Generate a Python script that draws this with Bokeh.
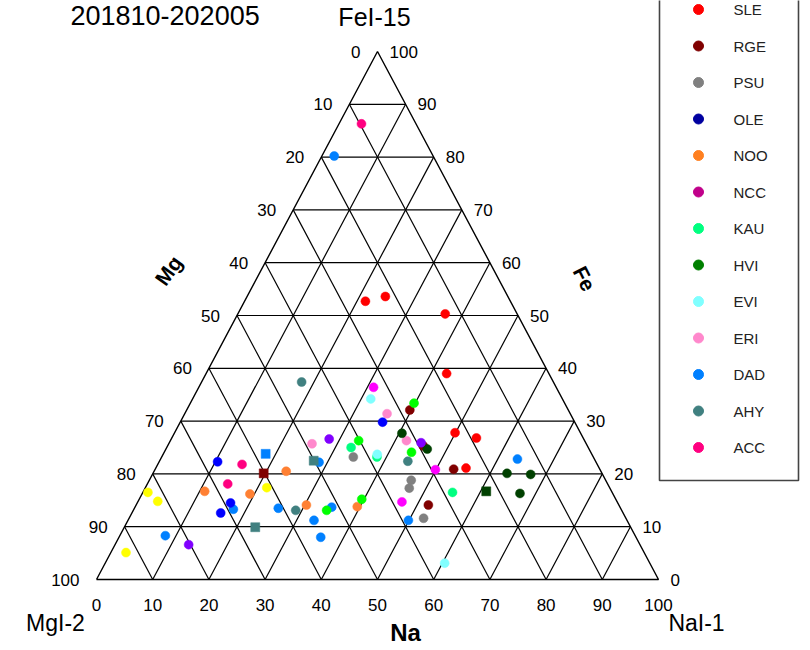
from bokeh.plotting import figure
from bokeh.models import Range1d
from bokeh.embed import file_html
from bokeh.resources import INLINE
from bokeh.core.properties import value

# ---------------- texts ----------------
title_text = "201810-202005"
apex_text = "FeI-15"
left_corner_text = "MgI-2"
right_corner_text = "NaI-1"
na_axis_name = "Na"
mg_axis_name = "Mg"
fe_axis_name = "Fe"
tick_values = [0, 10, 20, 30, 40, 50, 60, 70, 80, 90, 100]

# ---------------- legend ----------------
legend_names = ["SLE", "RGE", "PSU", "OLE", "NOO", "NCC", "KAU",
                "HVI", "EVI", "ERI", "DAD", "AHY", "ACC"]
legend_colors = ["#ff0000", "#800000", "#808080", "#0000a0", "#ff8020", "#c0008a",
                 "#00ff80", "#008000", "#80ffff", "#ff88cc", "#0080ff", "#408080", "#ff0080"]

# ---------------- data (Na %, Fe %; Mg = 100 - Na - Fe) ----------------
SLE_na = [21.5, 24.6, 36.9, 42.8, 49.9, 54.2, 55.2]
SLE_fe = [52.7, 53.6, 50.3, 39.0, 27.8, 26.8, 21.1]
RGE_na = [39.7, 45.5, 53.1, 52.0]
RGE_fe = [32.1, 25.3, 20.9, 14.1]
PSU_na = [34.1, 46.6, 47.0, 52.4]
PSU_fe = [23.2, 18.8, 17.3, 11.6]
NOO_na = [23.5, 10.9, 19.2, 30.3, 39.5]
NOO_fe = [20.5, 16.7, 16.2, 14.1, 13.8]
KAU_na = [32.8, 38.3, 55.1]
KAU_fe = [25.0, 23.2, 16.5]
EVI_na = [31.7, 38.1, 60.4]
EVI_fe = [34.2, 23.7, 3.1]
ERI_na = [36.0, 25.5, 42.0]
ERI_fe = [31.4, 25.7, 26.3]
DAD_na = [2.2, 28.5, 17.7, 25.6, 35.0, 33.1, 35.9, 8.1, 49.9, 63.5]
DAD_fe = [80.2, 22.2, 13.3, 13.5, 13.7, 11.2, 8.0, 8.3, 11.2, 22.8]
AHY_na = [17.8, 28.9, 44.2]
AHY_fe = [37.4, 13.1, 22.4]
ACC_na = [4.0, 15.0, 14.3]
ACC_fe = [86.3, 21.8, 18.1]
# series whose legend rows lie above the visible page
darkgreen_na = [40.5, 46.5, 63.0, 67.3, 67.2]
darkgreen_fe = [27.7, 24.7, 20.1, 19.9, 16.3]
yellow_na = [21.6, 0.9, 3.5, 2.7]
yellow_fe = [17.4, 16.5, 14.8, 5.1]
violet_na = [28.1, 13.1, 44.8]
violet_fe = [26.6, 6.6, 25.9]
lime_na = [39.8, 33.5, 44.0, 39.6, 34.4]
lime_fe = [33.4, 26.3, 24.1, 15.2, 13.1]
magenta_na = [31.1, 49.9, 47.0]
magenta_fe = [36.4, 20.8, 14.7]
blue_na = [36.0, 10.4, 16.6, 15.8]
blue_fe = [29.8, 22.3, 14.5, 12.6]
# square markers
sq_maroon_na = [19.7]
sq_maroon_fe = [20.1]
sq_dad_na = [18.2]
sq_dad_fe = [23.8]
sq_ahy_na = [27.4, 23.3]
sq_ahy_fe = [22.5, 9.9]
sq_darkgreen_na = [61.0]
sq_darkgreen_fe = [16.7]

series = [
    (SLE_na, SLE_fe, "#ff0000", "circle"),
    (RGE_na, RGE_fe, "#800000", "circle"),
    (PSU_na, PSU_fe, "#808080", "circle"),
    (NOO_na, NOO_fe, "#ff8033", "circle"),
    (KAU_na, KAU_fe, "#00ff80", "circle"),
    (EVI_na, EVI_fe, "#80ffff", "circle"),
    (ERI_na, ERI_fe, "#ff88cc", "circle"),
    (DAD_na, DAD_fe, "#0080ff", "circle"),
    (AHY_na, AHY_fe, "#408080", "circle"),
    (ACC_na, ACC_fe, "#ff0080", "circle"),
    (darkgreen_na, darkgreen_fe, "#004000", "circle"),
    (yellow_na, yellow_fe, "#ffff00", "circle"),
    (violet_na, violet_fe, "#8000ff", "circle"),
    (lime_na, lime_fe, "#00ff00", "circle"),
    (magenta_na, magenta_fe, "#ff00ff", "circle"),
    (blue_na, blue_fe, "#0000ff", "circle"),
    (sq_maroon_na, sq_maroon_fe, "#800000", "square"),
    (sq_dad_na, sq_dad_fe, "#0080ff", "square"),
    (sq_ahy_na, sq_ahy_fe, "#408080", "square"),
    (sq_darkgreen_na, sq_darkgreen_fe, "#004000", "square"),
]

# ---------------- geometry (pixel frame) ----------------
W, H = 810, 650
X0, PXU = 96.0, 5.62     # left corner x, pixels per % horizontally
Y0, PYU = 579.0, 5.28    # base y, pixels per % vertically


def dx(px):
    return (px - X0) / PXU


def dy(py):
    return (Y0 - py) / PYU


def to_uv(na, fe):
    return [n + f / 2.0 for n, f in zip(na, fe)], list(fe)


p = figure(width=W, height=H, output_backend="svg", toolbar_location=None,
           x_range=Range1d(dx(0), dx(W)), y_range=Range1d(dy(H), dy(0)),
           x_axis_location=None, y_axis_location=None,
           min_border=0, outline_line_color=None)
p.grid.visible = False
p.background_fill_color = "white"
p.border_fill_color = "white"

# ---------------- ternary grid ----------------
xs, ys = [], []
for k in range(1, 10):
    t = 10 * k
    # constant Fe (horizontal)
    xs.append([t / 2.0, 100 - t / 2.0]); ys.append([t, t])
    # constant Na
    xs.append([t, t + (100 - t) / 2.0]); ys.append([0, 100 - t])
    # constant Mg
    xs.append([100 - t, (100 - t) / 2.0]); ys.append([0, 100 - t])
p.multi_line(xs, ys, line_color="black", line_width=1.2)
p.line([0, 100, 50, 0], [0, 0, 100, 0], line_color="black", line_width=1.4)

# ---------------- points ----------------
for na, fe, col, mk in series:
    u, v = to_uv(na, fe)
    p.scatter(u, v, marker=mk, size=9, fill_color=col, line_color=col, line_width=0.5)

# ---------------- tick labels ----------------
tick_font = value("Liberation Sans")
# bottom (Na)
p.text([float(t) for t in tick_values], [dy(Y0 + 25)] * len(tick_values),
       text=[str(t) for t in tick_values], text_font=tick_font, text_font_size="17px",
       text_align="center", text_baseline="middle", text_color="#000000")
# left (Mg)
lx = [f / 2.0 - 17.0 / PXU for f in tick_values]
ly = [float(f) for f in tick_values]
p.text(lx, ly, text=[str(100 - f) for f in tick_values], text_font=tick_font,
       text_font_size="17px", text_align="right", text_baseline="middle", text_color="#000000")
# right (Fe)
rx = [100 - f / 2.0 + 12.0 / PXU for f in tick_values]
p.text(rx, ly, text=[str(f) for f in tick_values], text_font=tick_font,
       text_font_size="17px", text_align="left", text_baseline="middle", text_color="#000000")

# ---------------- titles / corner labels ----------------
p.text([dx(70)], [dy(15)], text=[title_text], text_font=value("Liberation Sans"),
       text_font_size="27px", text_align="left", text_baseline="middle", text_color="#000000")
p.text([dx(374)], [dy(16)], text=[apex_text], text_font=value("Liberation Sans"),
       text_font_size="25px", text_align="center", text_baseline="middle", text_color="#000000")
p.text([dx(55)], [dy(622)], text=[left_corner_text], text_font=value("Liberation Sans"),
       text_font_size="23px", text_align="center", text_baseline="middle", text_color="#000000")
p.text([dx(696)], [dy(622)], text=[right_corner_text], text_font=value("Liberation Sans"),
       text_font_size="23px", text_align="center", text_baseline="middle", text_color="#000000")
p.text([dx(405)], [dy(632)], text=[na_axis_name], text_font=value("Liberation Sans"),
       text_font_size="24px", text_font_style="bold", text_align="center",
       text_baseline="middle", text_color="#000000")
p.text([dx(168)], [dy(270)], text=[mg_axis_name], text_font=value("Liberation Sans"),
       text_font_size="21px", text_font_style="bold", text_align="center",
       text_baseline="middle", angle=0.95, text_color="#000000")
p.text([dx(584)], [dy(278)], text=[fe_axis_name], text_font=value("Liberation Sans"),
       text_font_size="21px", text_font_style="bold", text_align="center",
       text_baseline="middle", angle=-1.1, text_color="#000000")

# ---------------- legend (manual) ----------------
p.quad(left=[dx(659)], right=[dx(798)], bottom=[dy(480)], top=[dy(-20)],
       fill_color="white", line_color="#444444", line_width=1.6)
ent_y = [dy(9 + 36.5 * i) for i in range(len(legend_names))]
p.scatter([dx(698)] * len(legend_names), ent_y, marker="circle", size=10,
          fill_color=legend_colors, line_color=legend_colors)
p.text([dx(733)] * len(legend_names), ent_y, text=legend_names,
       text_font=value("Liberation Sans"), text_font_size="15px",
       text_align="left", text_baseline="middle", text_color="#222222")

open("out.html", "w").write(file_html(p, INLINE))
